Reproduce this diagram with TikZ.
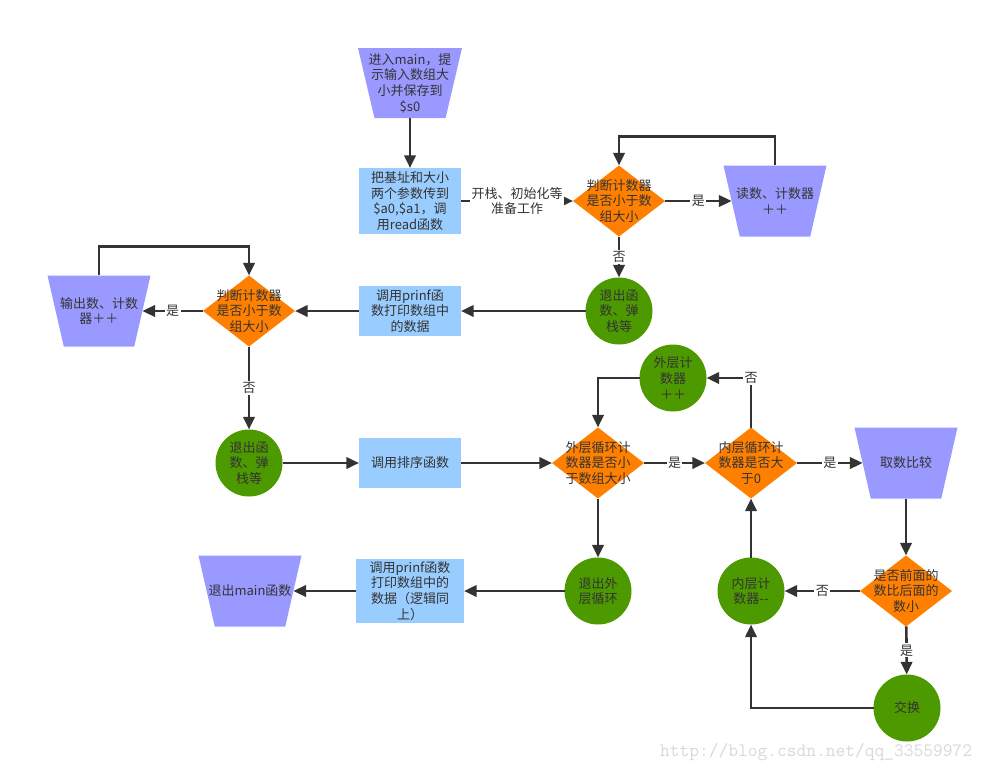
\documentclass[tikz,border=0pt]{standalone}
\usepackage{fontspec}
\setmainfont{Noto Sans CJK SC}
\usetikzlibrary{shapes.geometric,arrows.meta}
\definecolor{tzc}{HTML}{9999FF}
\definecolor{rc}{HTML}{99CCFF}
\definecolor{dc}{HTML}{FF8000}
\definecolor{cc}{HTML}{4D9900}
\definecolor{ln}{HTML}{333333}
\definecolor{wmc}{HTML}{D8D8D8}
\tikzset{
 base/.style={inner sep=0pt, outer sep=0pt, draw=none},
 rbox/.style={base, rectangle, fill=rc, minimum width=76.5pt},
 dbox/.style={base, diamond, fill=dc, minimum width=69pt, minimum height=53.25pt},
 cbox/.style={base, circle, fill=cc, minimum size=50.25pt},
 tbox/.style={base, inner sep=1pt, trapezium, trapezium left angle=77, trapezium right angle=77,
   shape border rotate=180, trapezium stretches=true, fill=tzc,
   minimum width=77.25pt, minimum height=53.25pt},
 txt/.style={align=center, text=ln, font=\fontsize{9.75pt}{11.8pt}\selectfont, inner sep=0pt},
 arr/.style={draw=ln, line width=2pt, -{Triangle[length=9.5pt,width=8.5pt]}},
 lbl/.style={txt, fill=white, inner sep=1pt},
 wm/.style={text=wmc, font=\fontsize{14.2pt}{16pt}\selectfont\ttfamily, inner sep=0pt},
}
\begin{document}
\begin{tikzpicture}[x=0.75pt,y=-0.75pt]
\useasboundingbox (0,0) rectangle (988,771);
% shapes
\node[tbox, minimum width=78pt, minimum height=52.5pt] (tz1) at (410,83) {};
\node[rbox, minimum height=49.5pt] (r1) at (410,201) {};
\node[dbox] (d1) at (619,201) {};
\node[tbox] (tz2) at (775,201) {};
\node[cbox] (c1) at (619,311) {};
\node[rbox, minimum height=37.5pt] (r2) at (410,311) {};
\node[dbox] (d2) at (249,311) {};
\node[tbox] (tz3) at (99,311) {};
\node[cbox] (c2) at (249,463) {};
\node[rbox, minimum height=37.5pt] (r3) at (410,463) {};
\node[dbox] (d3) at (598,463) {};
\node[cbox] (c3) at (673,378) {};
\node[dbox] (d4) at (751,463) {};
\node[tbox] (tz4) at (906,463) {};
\node[dbox] (d5) at (906,591) {};
\node[cbox] (c4) at (751,591) {};
\node[cbox] (c5) at (907,708) {};
\node[cbox] (c6) at (598,591) {};
\node[rbox, minimum width=81pt, minimum height=48pt] (r4) at (410,591) {};
\node[tbox] (tz5) at (250,591) {};
% texts
\node[txt] (t1) at (tz1) {进入main，提\\示输入数组大\\小并保存到\\\$s0};
\node[txt] (t2) at (r1) {把基址和大小\\两个参数传到\\\$a0,\$a1，调\\用read函数};
\node[txt] (t3) at (d1) {判断计数器\\是否小于数\\组大小};
\node[txt] (t4) at (tz2) {读数、计数器\\＋＋};
\node[txt] (t5) at (c1) {退出函\\数、弹\\栈等};
\node[txt] (t6) at (r2) {调用prinf函\\数打印数组中\\的数据};
\node[txt] (t7) at (d2) {判断计数器\\是否小于数\\组大小};
\node[txt] (t8) at (tz3) {输出数、计数\\器＋＋};
\node[txt] (t9) at (c2) {退出函\\数、弹\\栈等};
\node[txt] (t10) at (r3) {调用排序函数};
\node[txt] (t11) at (d3) {外层循环计\\数器是否小\\于数组大小};
\node[txt] (t12) at (c3) {外层计\\数器\\＋＋};
\node[txt] (t13) at (d4) {内层循环计\\数器是否大\\于0};
\node[txt] (t14) at (tz4) {取数比较};
\node[txt] (t15) at (d5) {是否前面的\\数比后面的\\数小};
\node[txt] (t16) at (c4) {内层计\\数器-{}-};
\node[txt] (t17) at (c5) {交换};
\node[txt] (t18) at (c6) {退出外\\层循环};
\node[txt] (t19) at (r4) {调用prinf函数\\打印数组中的\\数据（逻辑同\\上）};
\node[txt] (t20) at (tz5) {退出main函数};
% connectors
\draw[arr] (tz1) -- (r1);
\draw[arr] (r1) -- node[lbl] (l1) {开栈、初始化等\\准备工作} (d1);
\draw[arr] (d1) -- node[lbl] (l2) {是} (tz2);
\draw[arr] (tz2.north) -- ++(0,-29) -| (d1.north);
\draw[arr] (d1) -- node[lbl] (l3) {否} (c1);
\draw[arr] (c1) -- (r2);
\draw[arr] (r2) -- (d2);
\draw[arr] (d2) -- node[lbl] (l4) {是} (tz3);
\draw[arr] (tz3.north) -- ++(0,-29) -| (d2.north);
\draw[arr] (d2) -- node[lbl] (l5) {否} (c2);
\draw[arr] (c2) -- (r3);
\draw[arr] (r3) -- (d3);
\draw[arr] (c3.west) -| (d3.north);
\draw[arr] (d3) -- node[lbl] (l6) {是} (d4);
\draw[arr] (d4.north) |- node[lbl] (l7) {否} (c3.east);
\draw[arr] (d4) -- node[lbl] (l8) {是} (tz4);
\draw[arr] (tz4) -- (d5);
\draw[arr] (d5) -- node[lbl] (l9) {否} (c4);
\draw[arr] (d5) -- node[lbl] (l10) {是} (c5);
\draw[arr] (c5.west) -| (c4.south);
\draw[arr] (c4) -- (d4);
\draw[arr] (d3) -- (c6);
\draw[arr] (c6) -- (r4);
\draw[arr] (r4) -- (tz5);
% watermark
\node[wm] (wmk) at (816,752) {http://blog.csdn.net/qq\_33559972};
\end{tikzpicture}
\end{document}
